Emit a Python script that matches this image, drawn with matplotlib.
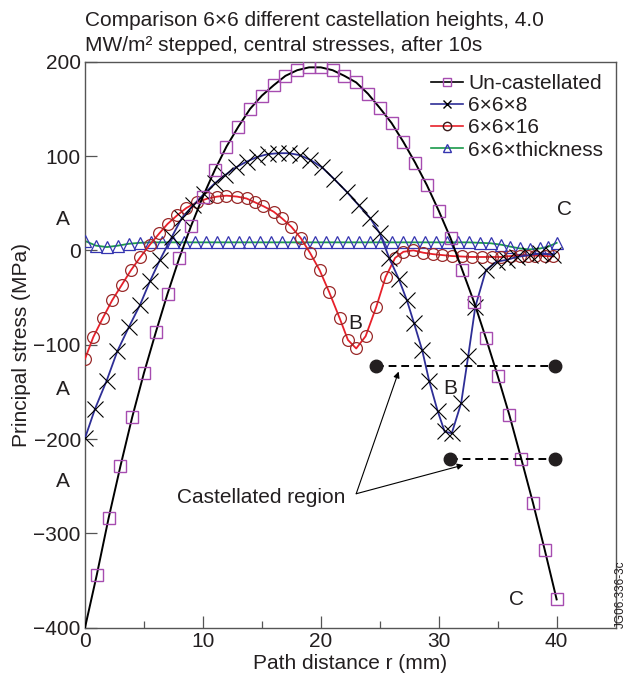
import matplotlib
matplotlib.use("Agg")
import matplotlib.pyplot as plt
from matplotlib.lines import Line2D

plt.rcParams['font.family'] = ['Liberation Sans', 'DejaVu Sans']

TXT = '#231f20'

# ---------------- data ----------------
# Un-castellated (line starts at r=0, markers from r=1)
x_unc = [0, 1, 2, 3, 4, 5, 6, 7, 8, 9, 10, 11, 12, 13, 14, 15, 16, 17, 18, 19, 20,
         21, 22, 23, 24, 25, 26, 27, 28, 29, 30, 31, 32, 33, 34, 35, 36, 37, 38, 39, 40]
y_unc = [-400, -344, -284, -229, -177, -130, -87, -46, -8, 26, 57, 85, 110, 131, 150, 164,
         175, 185, 191, 194, 194, 191, 185, 178, 166, 151, 135, 115, 93, 69, 42, 13,
         -21, -55, -93, -133, -175, -221, -268, -318, -370]

# 6x6x8
x_8 = [0, 0.85, 1.84, 2.74, 3.73, 4.66, 5.5, 6.36, 7.35, 8.2, 9.2, 10.1, 11.0, 11.9, 12.8,
       13.7, 14.6, 15.5, 16.4, 17.3, 18.2, 19.1, 20.1, 21.1, 22.2, 23.2, 24.2, 25.0, 25.8,
       26.6, 27.3, 27.9, 28.6, 29.2, 29.9, 30.5, 31.1, 31.9, 32.5, 33.1, 34.0, 34.9, 35.8,
       36.6, 37.7, 38.6, 39.7]
y_8 = [-199, -168, -138, -107, -81, -58, -33, -10, 14, 34, 48, 60, 71, 80, 88, 94, 99, 102,
       103, 103, 101, 96, 88, 76, 62, 48, 34, 18, -8, -30, -53, -77, -106, -139, -170, -192,
       -194, -162, -112, -60, -21, -12, -10, -7, -5, -3, -5]

# 6x6x16
x_16 = [0, 0.7, 1.5, 2.3, 3.1, 3.9, 4.7, 5.5, 6.3, 7.0, 7.8, 8.6, 9.5, 10.4, 11.2, 12.0,
        12.9, 13.7, 14.4, 15.1, 16.0, 16.7, 17.5, 18.3, 19.1, 19.9, 20.7, 21.6, 22.3, 23.0,
        23.8, 24.7, 25.5, 26.3, 27.0, 27.85, 28.7, 29.5, 30.3, 31.1, 31.95, 32.8, 33.7,
        34.5, 35.3, 36.1, 36.9, 37.6, 38.2, 39.0, 39.7]
y_16 = [-115, -92, -72, -53, -37, -21, -7, 6, 18, 28, 37, 45, 51, 55, 57, 58, 57, 55, 51, 47,
        41, 34, 25, 13, -3, -21, -44, -72, -95, -104, -91, -60, -28, -8, -1.5, 0, -2.5, -4,
        -5, -6, -6.5, -7, -7, -7, -7, -6, -5.5, -5.5, -5.5, -6, -6.5]

# 6x6xthickness
x_th = [0, 0.93, 1.86, 2.79, 3.72, 4.65, 5.58, 6.51, 7.44, 8.37, 9.3, 10.23, 11.16, 12.09,
        13.02, 13.95, 14.88, 15.81, 16.74, 17.67, 18.6, 19.53, 20.46, 21.39, 22.32, 23.25,
        24.18, 25.11, 26.04, 26.97, 27.9, 28.83, 29.76, 30.69, 31.62, 32.55, 33.48, 34.41,
        35.3, 36.05, 36.9, 37.7, 38.6, 39.3, 40.0]
y_th = [10, 5, 3.5, 5, 7, 8, 8.5, 8.5, 8.5, 8.5, 8.5, 8.5, 8.5, 8.5, 8.5, 8.5, 8.5, 8.5, 8.5,
        8.5, 8.5, 8.5, 8.5, 8.5, 8.5, 8.5, 8.5, 8.5, 8.5, 8.5, 8.5, 8.5, 8.5, 8.5, 8.5, 8.5,
        8, 7.5, 6, 4, 2, 1, 2, 4, 8]

# castellated region markers (dashed segments)
cast_upper_x = [24.65, 39.9]
cast_upper_y = [-123, -123]
cast_lower_x = [30.96, 39.9]
cast_lower_y = [-221.5, -221.5]

series_labels = ['Un-castellated', '6×6×8', '6×6×16', '6×6×thickness']
x_ticks = [0, 10, 20, 30, 40]
y_ticks = [-400, -300, -200, -100, 0, 100, 200]

# ---------------- figure ----------------
fig = plt.figure(figsize=(6.26, 6.82), dpi=100)
ax = fig.add_axes([85/626, 1-627.7/682, (615.6-85)/626, (627.7-61.7)/682])

C_SQ = '#a64cb0'
C_NAVY = '#2e2e96'
C_RED = '#e8202a'
C_CIRC = '#9a2a2a'
C_GREEN = '#1a9a4a'
C_TRI = '#3535b0'

# thickness
ax.plot(x_th, y_th, color=C_GREEN, lw=1.3, zorder=2)
ax.plot(x_th, y_th, ls='none', marker='^', ms=8.5, mfc='none', mec=C_TRI, mew=0.9, zorder=3)
# 6x6x16
ax.plot(x_16, y_16, color=C_RED, lw=1.3, zorder=4)
ax.plot(x_16, y_16, ls='none', marker='o', ms=8.5, mfc='none', mec=C_CIRC, mew=0.9, zorder=4)
# 6x6x8
ax.plot(x_8, y_8, color=C_NAVY, lw=1.3, zorder=5)
ax.plot(x_8, y_8, ls='none', marker='x', ms=12, mec='black', mew=0.8, zorder=5)
# un-castellated
ax.plot(x_unc, y_unc, color='black', lw=1.4, zorder=6)
ax.plot(x_unc[1:], y_unc[1:], ls='none', marker='s', ms=8.2, mfc='none', mec=C_SQ, mew=1.0, zorder=6)

# castellated region
for xs, ys in ((cast_upper_x, cast_upper_y), (cast_lower_x, cast_lower_y)):
    ax.plot(xs, ys, color='black', ls=(0, (4, 2.5)), lw=1.4, zorder=7)
    ax.plot(xs, ys, ls='none', marker='o', ms=9, color='#231f20', zorder=7)

ax.text(14.9, -262, 'Castellated region', ha='center', va='center', fontsize=15, color=TXT)
for tip in ((26.6, -128.5), (32.1, -227.5)):
    ax.annotate('', xy=tip, xytext=(23.0, -258),
                arrowprops=dict(arrowstyle='-|>', color='black', lw=0.8,
                                mutation_scale=9, shrinkA=0, shrinkB=0))

# letters
for (tx, ty, s) in ((22.9, -77, 'B'), (31.0, -146, 'B'), (40.7, 43, 'C'), (36.6, -370, 'C')):
    ax.text(tx, ty, s, ha='center', va='center', fontsize=15, color=TXT, zorder=8)
for ty in (33, -148, -245):
    ax.text(-1.9, ty, 'A', ha='center', va='center', fontsize=15, color=TXT, clip_on=False)

ax.set_xlim(0, 45)
ax.set_ylim(-400, 200)
ax.set_xticks(x_ticks)
ax.set_xticks([5, 15, 25, 35], minor=True)
ax.set_yticks(y_ticks)
ax.tick_params(axis='both', which='major', direction='in', length=8.4, width=0.9,
               color='#555555', labelsize=15, labelcolor=TXT, pad=3)
ax.tick_params(axis='x', which='minor', direction='in', length=4.8, width=0.9, color='#555555')
for sp in ax.spines.values():
    sp.set_color('#555555')
    sp.set_linewidth(1.0)

ax.set_xlabel('Path distance r (mm)', fontsize=15, color=TXT, labelpad=2)
ax.set_ylabel('Principal stress (MPa)', fontsize=15, color=TXT, labelpad=2)

handles = [
    Line2D([], [], color='black', lw=1.2, marker='s', ms=6, mfc='none', mec=C_SQ),
    Line2D([], [], color=C_NAVY, lw=1.2, marker='x', ms=6, mec='black'),
    Line2D([], [], color=C_RED, lw=1.2, marker='o', ms=6, mfc='none', mec='#3a1a1a'),
    Line2D([], [], color=C_GREEN, lw=1.2, marker='^', ms=6, mfc='none', mec=C_TRI),
]
leg = ax.legend(handles, series_labels, loc='upper right', frameon=False, fontsize=15,
                handlelength=1.55, handletextpad=0.25, labelspacing=0.15,
                borderaxespad=0.3, borderpad=0.3)
for t in leg.get_texts():
    t.set_color(TXT)

fig.text(85/626, 1-26/682, 'Comparison 6×6 different castellation heights, 4.0',
         fontsize=15, color=TXT, ha='left', va='baseline')
fig.text(85/626, 1-51/682, 'MW/m² stepped, central stresses, after 10s',
         fontsize=15, color=TXT, ha='left', va='baseline')
fig.text(621/626, 1-628/682, 'JG06.336-3c', rotation=90, fontsize=8.5, color=TXT,
         ha='center', va='bottom')

fig.savefig('out.png', dpi=100)
